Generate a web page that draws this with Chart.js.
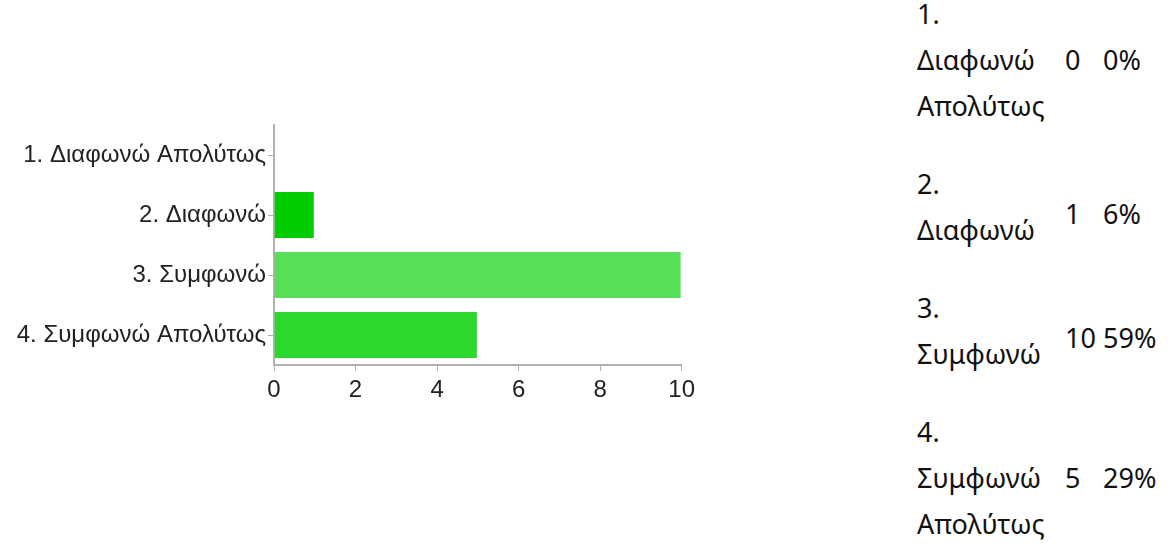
<!DOCTYPE html>
<html>
<head>
<meta charset="utf-8">
<script src="https://cdn.jsdelivr.net/npm/chart.js@4"></script>
<style>
  body { margin: 0; background: #fff; width: 1171px; height: 544px; overflow: hidden; position: relative; }
  #wrap { position: absolute; left: 0; top: 0; width: 700px; height: 410px; }
  #answers { position: absolute; left: 917px; top: -25px; border-collapse: collapse;
    font-family: "Noto Sans", sans-serif; font-size: 27px; line-height: 46px; color: #111; }
  #answers td { padding: 16px 0; vertical-align: middle; white-space: nowrap; }
  #answers td.lbl { width: 148px; }
  #answers td.num { width: 38px; }
  #answers tr.short td.num, #answers tr.short td.pct { position: relative; top: 7px; }
</style>
</head>
<body>
<div id="wrap"><canvas id="surveyChart" width="700" height="410"></canvas></div>
<table id="answers"></table>
<script>
// Survey answers: counts per option
const categories = ['1. Διαφωνώ Απολύτως', '2. Διαφωνώ', '3. Συμφωνώ', '4. Συμφωνώ Απολύτως'];
const counts = [0, 1, 10, 5];
const percents = ['0%', '6%', '59%', '29%'];
const xTicks = [0, 2, 4, 6, 8, 10];
const barColors = ['#00cc00', '#00cc00', '#57e057', '#2ad92a'];

// table on the right
const table = document.getElementById('answers');
categories.forEach((c, i) => {
    const words = c.split(' ');
    const tr = document.createElement('tr');
    if (words.length < 3) tr.className = 'short';
    tr.innerHTML = '<td class="lbl">' + words.join('<br>') + '</td>' +
        '<td class="num">' + counts[i] + '</td><td class="pct">' + percents[i] + '</td>';
    table.appendChild(tr);
});

const ctx = document.getElementById('surveyChart').getContext('2d');
const axisGray = '#b0b0b0';
const labelFont = { family: '"Liberation Sans", Arial, sans-serif', size: 24 };

const surveyChart = new Chart(ctx, {
    type: 'bar',
    data: {
        labels: categories,
        datasets: [{
            data: counts,
            backgroundColor: barColors,
            borderColor: 'rgba(255,255,255,0.35)',
            borderWidth: 1,
            barPercentage: 0.8,
            categoryPercentage: 1.0
        }]
    },
    options: {
        indexAxis: 'y',
        responsive: false,
        animation: false,
        layout: { padding: { top: 125, left: 0, right: 17, bottom: 0 } },
        plugins: {
            legend: { display: false },
            tooltip: { enabled: false }
        },
        scales: {
            x: {
                min: 0,
                max: 10,
                afterBuildTicks: (s) => { s.ticks = xTicks.map(v => ({ value: v })); },
                afterFit: (s) => { s.height = 45; },
                grid: { drawOnChartArea: false, drawTicks: true, tickLength: 6, color: axisGray },
                border: { color: axisGray, width: 2 },
                ticks: { color: '#222', padding: 5, maxRotation: 0, font: labelFont }
            },
            y: {
                afterFit: (s) => { s.width = 274; },
                grid: { offset: false, drawOnChartArea: false, tickLength: 6, color: axisGray },
                border: { color: axisGray, width: 2 },
                ticks: { color: '#222', padding: 2, font: labelFont }
            }
        }
    }
});
</script>
</body>
</html>
